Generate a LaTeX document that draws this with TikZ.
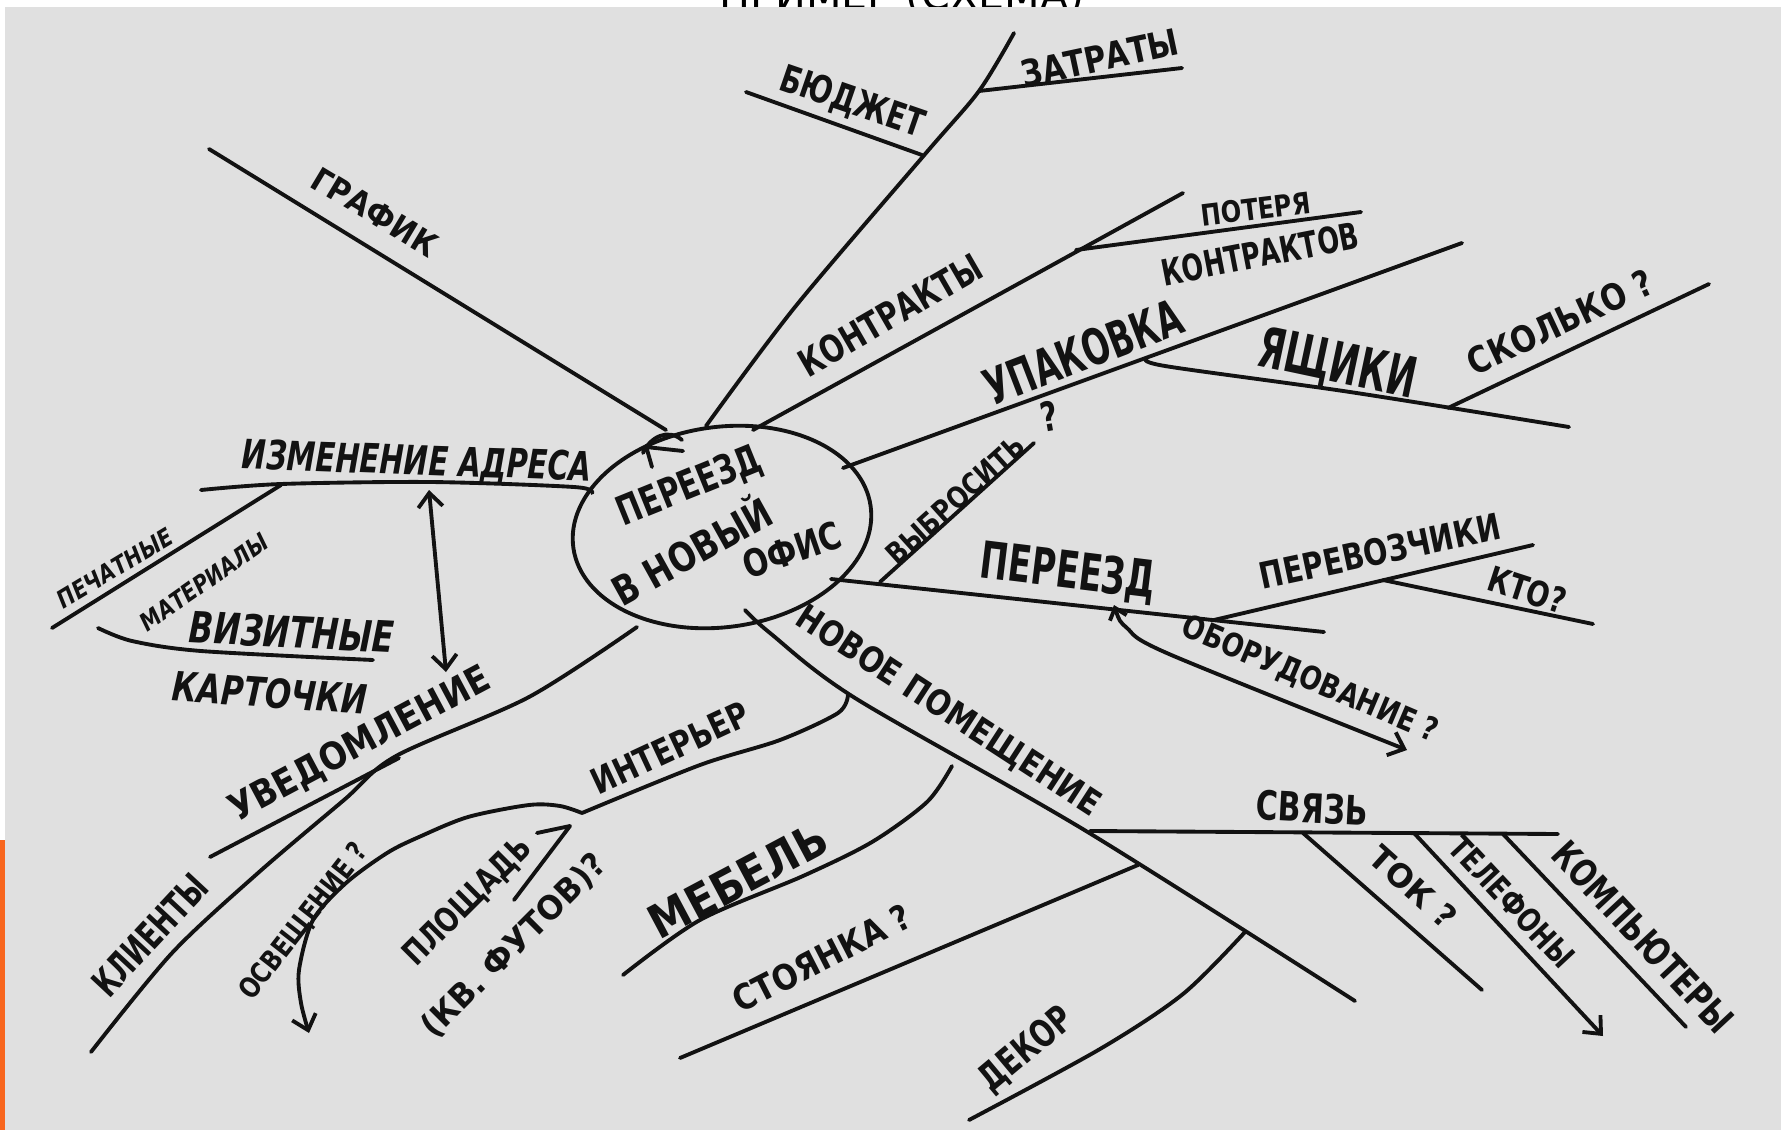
\documentclass[tikz,border=0pt]{standalone}
\usepackage{fontspec}
\setmainfont{DejaVu Sans}
\usepackage{graphicx}
\usetikzlibrary{arrows.meta}
\newdimen\pxu \pxu=0.01cm
\newcommand{\lb}[3]{\resizebox{#1\pxu}{#2\pxu}{#3}}
\definecolor{bgg}{RGB}{224,224,224}
\definecolor{orng}{RGB}{248,102,30}
\definecolor{ink}{RGB}{18,18,18}
\begin{document}
\begin{tikzpicture}[x=0.01cm,y=-0.01cm,
  ln/.style={line width=1.1pt, draw=ink, line cap=round, line join=round},
  arr/.style={-{Straight Barb[length=4pt,width=7pt]}},
  arrbk/.style={{Straight Barb[length=3pt,width=5pt]}-{Straight Barb[length=4pt,width=7pt]}},
  arrs/.style={{Straight Barb[length=4pt,width=7pt]}-{Straight Barb[length=4pt,width=7pt]}},
  lab/.style={inner sep=0pt, outer sep=0pt, text=ink, font=\bfseries},
  labi/.style={lab, font=\bfseries\itshape}]
\useasboundingbox (0,0) rectangle (1781,1130);
\fill[white] (0,0) rectangle (1781,1130);
% title sliver (only the feet of its letters show)
\begin{scope}
\clip (700,0) rectangle (1100,7);
\node[anchor=base, inner sep=0pt, font=\fontsize{18}{18}\selectfont] (title) at (902,9) {\resizebox{365\pxu}{!}{ПРИМЕР (СХЕМА)}};
\end{scope}
\fill[bgg] (5,7) rectangle (1781,1130);
\fill[orng] (0,840) rectangle (5,1130);

% central ellipse
\coordinate (c) at (722,527);
\draw[ln, rotate around={8:(c)}] (c) ellipse [x radius=1.5cm, y radius=1.0cm];
\draw[ln] (643,453) .. controls (650,437) and (668,428) .. (682,440);
\draw[ln] (646,447) -- (683,451);
\draw[ln] (646,446) -- (652,467);
\node[lab, rotate=22] (t1) at (690,487) {\lb{152}{30}{ПЕРЕЕЗД}};
\node[lab, rotate=29] (t2) at (692,552) {\lb{176}{30}{В НОВЫ\smash{Й}}};
\node[lab, rotate=19] (t3) at (792,550) {\lb{102}{28}{ОФИС}};

% ГРАФИК
\coordinate (g0) at (666,430); \coordinate (g1) at (209,149);
\draw[ln] (g0) -- (g1);
\node[lab, rotate=-31] (graf) at (375,212) {\lb{140}{24}{ГРАФИК}};

% БЮДЖЕТ / ЗАТРАТЫ
\draw[ln] plot[smooth] coordinates {(706,426) (795,307) (926,153) (979,91) (1014,33)};
\coordinate (b1) at (922,155); \coordinate (b2) at (746,92);
\draw[ln] (b2) -- (b1);
\coordinate (z1) at (979,91); \coordinate (z2) at (1182,68);
\draw[ln] (z1) -- (z2);
\node[lab, rotate=-19] (budz) at (852,103) {\lb{150}{28}{БЮДЖЕТ}};
\node[lab, rotate=12] (zatr) at (1100,58) {\lb{160}{27}{ЗАТРАТЫ}};

% КОНТРАКТЫ
\coordinate (k0) at (753,430); \coordinate (k1) at (1183,193);
\draw[ln] (k0) -- (k1);
\coordinate (p0) at (1076,250); \coordinate (p1) at (1361,212);
\draw[ln] (p0) -- (p1);
\node[lab, rotate=30] (kontr) at (890,315) {\lb{205}{28}{КОНТРАКТЫ}};
\node[lab, rotate=7] (poter) at (1256,209) {\lb{110}{22}{ПОТЕРЯ}};
\node[lab, rotate=11] (kontrov) at (1260,254) {\lb{200}{27}{КОНТРАКТОВ}};

% УПАКОВКА
\coordinate (u0) at (843,468); \coordinate (u1) at (1462,243);
\draw[ln] (u0) -- (u1);
\draw[ln] plot[smooth] coordinates {(1147,358) (1165,366) (1350,392) (1569,427)};
\coordinate (s0) at (1448,408); \coordinate (s1) at (1709,284);
\draw[ln] (s0) -- (s1);
\node[lab, rotate=21] (upak) at (1083,352) {\lb{208}{37}{УПАКОВКА}};
\node[lab, rotate=-12] (yasch) at (1337,366) {\lb{160}{41}{ЯЩИКИ}};
\node[lab, rotate=25] (skol) at (1560,322) {\lb{200}{27}{СКОЛЬКО ?}};

% ВЫБРОСИТЬ
\coordinate (v0) at (880,582); \coordinate (v1) at (1034,443);
\draw[ln] (v0) -- (v1);
\node[lab, rotate=42] (vybr) at (955,500) {\lb{175}{22}{ВЫБРОСИТЬ}};
\node[lab, rotate=10] (vq) at (1049,416) {\lb{17}{30}{?}};

% ПЕРЕЕЗД
\coordinate (e0) at (831,579); \coordinate (e1) at (1324,632);
\draw[ln] (e0) -- (e1);
\coordinate (pv0) at (1214,620); \coordinate (pv1) at (1533,545);
\draw[ln] (pv0) -- (pv1);
\coordinate (kt0) at (1383,580); \coordinate (kt1) at (1593,624);
\draw[ln] (kt0) -- (kt1);
\draw[ln, arrbk] plot[smooth] coordinates {(1114,605) (1127,628) (1169,654) (1407,750)};
\node[lab, rotate=-7] (pereezd) at (1068,573) {\lb{176}{38}{ПЕРЕЕЗД}};
\node[lab, rotate=12] (perev) at (1380,551) {\lb{245}{27}{ПЕРЕВОЗЧИКИ}};
\node[lab, rotate=-18] (kto) at (1527,590) {\lb{80}{26}{КТО?}};
\node[lab, rotate=-23] (obor) at (1310,680) {\lb{275}{24}{ОБОРУДОВАНИЕ ?}};

% НОВОЕ ПОМЕЩЕНИЕ
\draw[ln] plot[smooth] coordinates {(745,610) (770,633) (855,698) (1086,831) (1355,1001)};
\coordinate (sv0) at (1090,831); \coordinate (sv1) at (1558,834);
\draw[ln] (sv0) -- (sv1);
\draw[ln] (1303,833) -- (1482,990);
\draw[ln, arr] (1414,833) -- (1603,1036);
\draw[ln] (1503,834) -- (1686,1027);
\draw[ln] plot[smooth] coordinates {(952,766) (927,802) (872,842) (803,876) (700,920) (623,975)};
\draw[ln] (1138,865) -- (680,1058);
\draw[ln] plot[smooth] coordinates {(1245,932) (1183,994) (1100,1049) (969,1120)};
\draw[ln] plot[smooth] coordinates {(848,695) (838,713) (780,740) (700,765) (582,813)};
\draw[ln, arr] plot[smooth] coordinates {(582,813) (560,806) (529,805) (468,817) (419,837) (387,853) (346,883) (313,920) (299,970) (301,1003) (309,1033)};
\draw[ln] (537,833) -- (570,826) -- (514,900);
\node[lab, rotate=-33] (novoe) at (948,712) {\lb{355}{26}{НОВОЕ ПОМЕЩЕНИЕ}};
\node[lab, rotate=-3] (svyaz) at (1312,808) {\lb{112}{30}{СВЯЗЬ}};
\node[lab, rotate=-42] (tok) at (1413,887) {\lb{105}{24}{ТОК ?}};
\node[lab, rotate=-47] (tel) at (1512,902) {\lb{166}{24}{ТЕЛЕФОНЫ}};
\node[lab, rotate=-47] (komp) at (1643,937) {\lb{245}{28}{КОМПЬЮТЕРЫ}};
\node[lab, rotate=28] (mebel) at (738,880) {\lb{195}{34}{МЕБЕЛЬ}};
\node[lab, rotate=27] (stoyan) at (822,958) {\lb{195}{26}{СТОЯНКА ?}};
\node[lab, rotate=40] (dekor) at (1027,1050) {\lb{110}{28}{ДЕКОР}};
\node[lab, rotate=25] (inter) at (670,748) {\lb{170}{26}{ИНТЕРЬЕР}};
\node[lab, rotate=45] (plosh) at (468,902) {\lb{165}{25}{ПЛОЩАДЬ}};
\node[lab, rotate=45] (kvf) at (514,946) {\lb{245}{25}{(КВ. ФУТОВ)?}};
\node[lab, rotate=52] (osv) at (304,922) {\lb{190}{21}{ОСВЕЩЕНИЕ ?}};

% УВЕДОМЛЕНИЕ
\draw[ln] plot[smooth] coordinates {(637,627) (529,697) (396,756) (344,800) (258,873) (172,953) (91,1052)};
\coordinate (kl0) at (399,758); \coordinate (kl1) at (210,857);
\draw[ln] (kl0) -- (kl1);
\node[lab, rotate=28] (uved) at (360,745) {\lb{290}{28}{УВЕДОМЛЕНИЕ}};
\node[lab, rotate=47] (klient) at (150,935) {\lb{150}{28}{КЛИЕНТЫ}};

% ИЗМЕНЕНИЕ АДРЕСА
\draw[ln] plot[smooth] coordinates {(201,490) (281,484) (431,482) (574,487) (592,493)};
\coordinate (pe0) at (281,485); \coordinate (pe1) at (52,628);
\draw[ln] (pe0) -- (pe1);
\draw[ln] plot[smooth] coordinates {(98,628) (132,641) (201,651) (373,660)};
\coordinate (da0) at (429,490); \coordinate (da1) at (446,672);
\draw[ln, arrs] (da0) -- (da1);
\node[labi, rotate=-2] (izm) at (417,463) {\lb{350}{30}{ИЗМЕНЕНИЕ АДРЕСА}};
\node[labi, rotate=31] (pech) at (115,568) {\lb{130}{18}{ПЕЧАТНЫЕ}};
\node[labi, rotate=35] (mater) at (204,582) {\lb{150}{18}{МАТЕРИАЛЫ}};
\node[labi, rotate=-3] (viz) at (292,632) {\lb{205}{32}{ВИЗИТНЫЕ}};
\node[labi, rotate=-4] (kart) at (270,693) {\lb{195}{30}{КАРТОЧКИ}};
\end{tikzpicture}
\end{document}
